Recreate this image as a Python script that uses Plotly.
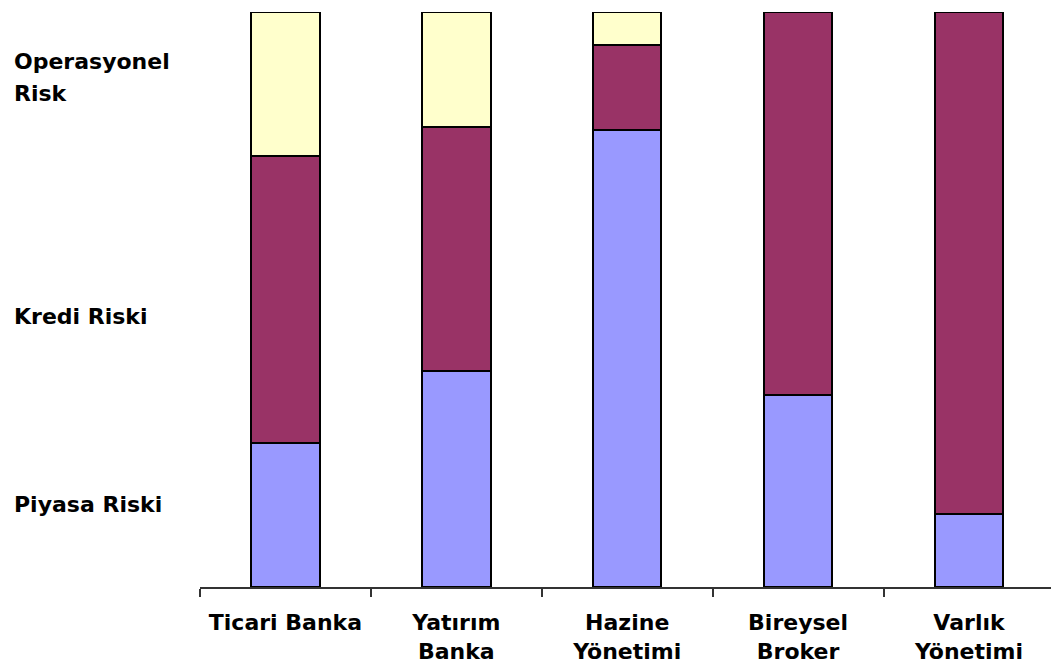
import plotly.graph_objects as go

# Business lines along the x axis
categories = [
    "Ticari Banka",
    "Yatırım<br>Banka",
    "Hazine<br>Yönetimi",
    "Bireysel<br>Broker",
    "Varlık<br>Yönetimi",
]

# Share of each risk type per business line (percent, stacks to 100)
piyasa_riski = [25.0, 37.5, 79.5, 33.4, 12.7]
kredi_riski = [50.0, 42.5, 14.8, 66.6, 87.3]
operasyonel_risk = [25.0, 20.0, 5.7, 0.0, 0.0]

# Risk-type labels on the left, placed at their vertical position (percent)
risk_labels = ["Operasyonel<br>Risk", "Kredi Riski", "Piyasa Riski"]
risk_label_pos = [88.6, 47.1, 14.3]

colors = {"piyasa": "#9999FF", "kredi": "#993366", "operasyonel": "#FFFFCC"}

fig = go.Figure()
for name, vals, col in [
    ("Piyasa Riski", piyasa_riski, colors["piyasa"]),
    ("Kredi Riski", kredi_riski, colors["kredi"]),
    ("Operasyonel Risk", operasyonel_risk, colors["operasyonel"]),
]:
    fig.add_trace(go.Bar(
        x=categories, y=vals, name=name,
        marker=dict(color=col, line=dict(color="#000000", width=2)),
    ))

label_font = dict(family="DejaVu Sans", size=22, color="#000000", weight="bold")
line_step = 32  # vertical spacing between lines of a multi-line label (px)

for text, pos in zip(risk_labels, risk_label_pos):
    lines = text.split("<br>")
    n = len(lines)
    for i, line in enumerate(lines):
        fig.add_annotation(
            text=line, xref="paper", yref="paper", x=0, y=pos / 100,
            xanchor="left", yanchor="middle", align="left", xshift=-188,
            yshift=((n - 1) / 2 - i) * line_step,
            showarrow=False, font=label_font,
        )

fig.update_layout(
    width=1051, height=669,
    margin=dict(l=200, r=0, t=12, b=82, pad=0),
    barmode="stack", bargap=0.6,
    paper_bgcolor="white", plot_bgcolor="white",
    showlegend=False,
)
fig.update_xaxes(
    type="category", range=[-0.5, 4.48],
    showline=True, linecolor="#333333", linewidth=2,
    ticks="outside", tickson="boundaries", ticklen=8, tickwidth=2, tickcolor="#333333",
    tickfont=label_font, ticklabelstandoff=15,
    showgrid=False, zeroline=False,
)
fig.update_yaxes(
    range=[0, 100], showticklabels=False, showgrid=False, zeroline=False, showline=False,
)

fig.write_html("out.html")
